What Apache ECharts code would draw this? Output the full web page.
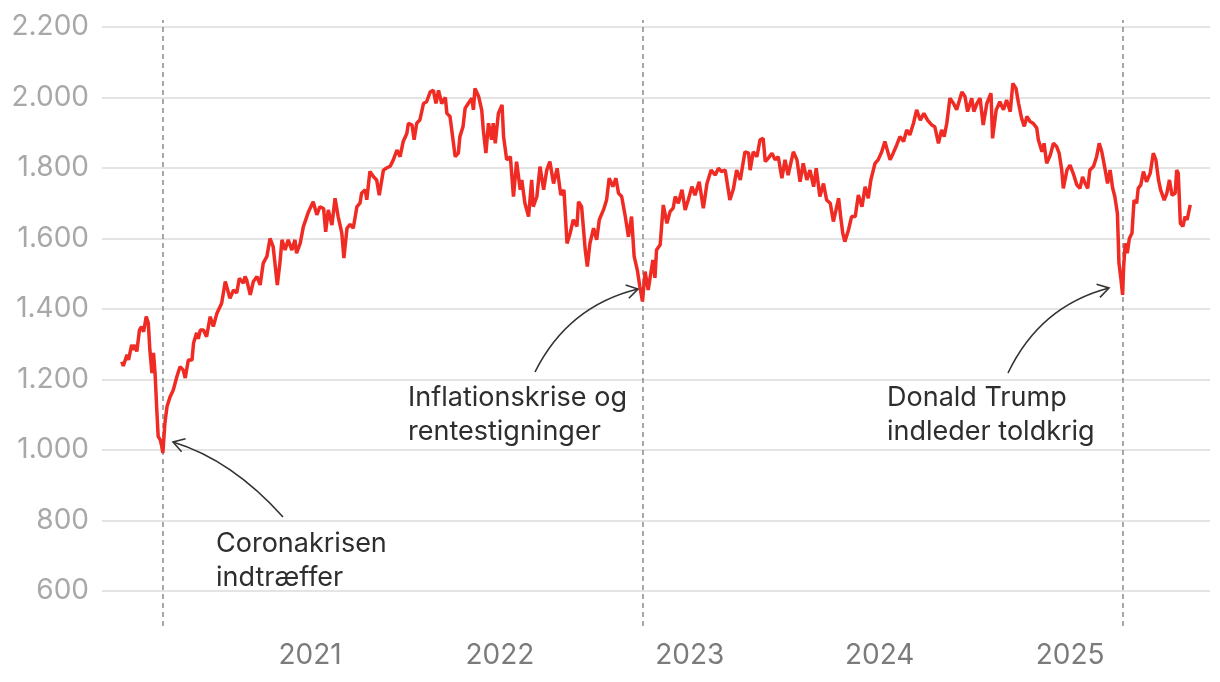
<!DOCTYPE html>
<html><head><meta charset="utf-8">
<script src="https://cdn.jsdelivr.net/npm/echarts@6/dist/echarts.min.js"></script>
<style>html,body{margin:0;padding:0;background:#fff}#c{width:1220px;height:682px}</style>
</head><body><div id="c"></div><script>
// Days since 2020-01-01 and index level
const startUTC = Date.UTC(2020, 0, 1);
const dayOffsets = [4,7,14,17,23,26,30,33,38,42,46,51,55,58,62,65,68,71,74,78,81,83,87,91,97,103,110,116,122,126,132,139,142,148,151,155,161,167,174,180,187,196,203,212,219,225,230,238,241,244,251,257,264,270,276,283,289,295,303,308,312,318,324,331,337,340,347,353,363,372,379,385,392,396,401,408,414,420,427,431,437,443,449,456,462,465,472,475,481,488,494,499,507,513,520,526,533,539,545,552,555,562,566,571,577,584,590,597,603,608,613,619,626,629,635,645,651,654,660,664,670,677,680,683,690,696,699,704,709,715,718,722,728,735,738,744,751,757,763,770,773,779,786,792,795,802,808,815,821,827,834,841,848,854,860,866,872,879,882,888,895,899,904,911,917,922,930,936,941,948,954,959,965,972,978,984,989,995,1000,1005,1010,1016,1025,1029,1032,1039,1045,1052,1058,1064,1068,1074,1081,1087,1093,1100,1106,1114,1122,1129,1137,1145,1151,1157,1164,1173,1180,1186,1193,1202,1209,1212,1218,1225,1231,1237,1241,1247,1254,1260,1266,1273,1279,1285,1295,1302,1308,1314,1321,1327,1334,1339,1346,1353,1359,1366,1372,1382,1386,1390,1394,1401,1407,1414,1420,1427,1433,1439,1444,1452,1458,1465,1471,1481,1487,1494,1500,1507,1513,1519,1526,1532,1539,1546,1553,1561,1567,1574,1580,1585,1590,1596,1603,1609,1619,1625,1630,1638,1642,1648,1654,1660,1667,1675,1678,1685,1692,1699,1705,1712,1717,1723,1728,1734,1739,1744,1750,1756,1763,1766,1773,1777,1782,1789,1795,1801,1806,1811,1814,1821,1827,1833,1840,1846,1851,1856,1861,1865,1872,1878,1883,1888,1894,1899,1904,1909,1913,1918,1921,1925,1928,1930,1933,1937,1941,1946,1950,1955,1958,1963,1968,1974,1981,1987,1992,1997,2001,2008,2013,2018,2023,2029,2032,2035,2039,2044,2048,2052,2058];
const indexValues = [1250,1238,1270,1255,1298,1284,1298,1279,1340,1350,1335,1378,1360,1284,1218,1275,1218,1123,1038,1028,1009,991,1077,1123,1151,1170,1208,1236,1227,1204,1255,1255,1303,1332,1315,1340,1340,1321,1378,1350,1388,1416,1478,1430,1454,1445,1487,1473,1492,1483,1440,1478,1492,1468,1530,1549,1600,1577,1468,1530,1596,1567,1596,1567,1596,1558,1586,1633,1676,1704,1667,1690,1685,1619,1681,1638,1714,1662,1615,1544,1629,1640,1629,1690,1700,1728,1738,1710,1790,1775,1766,1723,1794,1800,1805,1823,1851,1832,1875,1898,1927,1922,1880,1927,1936,1983,1988,2016,2020,1983,2020,1983,2000,1955,1946,1832,1842,1889,1917,1969,1983,1998,1965,2026,2003,1964,1908,1842,1927,1880,1927,1870,1955,1979,1889,1823,1832,1719,1818,1738,1766,1700,1662,1766,1690,1719,1804,1738,1794,1818,1756,1799,1723,1738,1586,1615,1653,1634,1704,1690,1567,1520,1586,1629,1596,1653,1681,1709,1771,1747,1771,1728,1719,1662,1605,1662,1549,1511,1463,1421,1506,1454,1539,1488,1567,1582,1695,1643,1676,1686,1719,1700,1738,1681,1709,1747,1723,1761,1686,1756,1794,1780,1799,1790,1794,1709,1742,1794,1766,1846,1842,1794,1846,1832,1880,1884,1818,1828,1842,1823,1832,1771,1823,1780,1846,1823,1761,1813,1766,1794,1747,1799,1719,1756,1709,1700,1648,1714,1662,1615,1591,1624,1662,1662,1723,1690,1747,1714,1766,1813,1823,1846,1875,1823,1842,1866,1889,1875,1908,1894,1927,1965,1936,1955,1936,1922,1917,1870,1908,1889,1927,1998,1983,1965,2016,2003,1960,1998,1960,1983,1998,1922,1983,2012,1884,1965,1988,1965,1993,1960,2040,2026,1983,1940,1918,1946,1932,1927,1913,1880,1846,1870,1813,1837,1870,1861,1842,1794,1742,1794,1808,1785,1752,1742,1775,1756,1742,1794,1804,1832,1870,1846,1799,1756,1794,1742,1719,1671,1530,1482,1440,1520,1586,1558,1600,1615,1709,1700,1742,1752,1790,1761,1785,1842,1823,1766,1738,1709,1728,1766,1723,1728,1794,1785,1643,1634,1662,1653,1695];
const yearLabels = [2021, 2022, 2023, 2024, 2025];
const yTickLabels = [600, 800, 1000, 1200, 1400, 1600, 1800, 2000, 2200];
const eventDays = [83, 1005, 1928];
const eventTexts = ['Coronakrisen\nindtræffer', 'Inflationskrise og\nrentestigninger', 'Donald Trump\nindleder toldkrig'];

const DAY = 86400000;
const seriesData = dayOffsets.map((d, i) => [startUTC + d * DAY, indexValues[i]]);
const yearTs = yearLabels.map(y => Date.UTC(y, 0, 1));
const fmtNum = v => v >= 1000 ? Math.floor(v / 1000) + '.' + String(v % 1000).padStart(3, '0') : String(v);

function arrow(p0, c, p1) {
  const dx = p1[0] - c[0], dy = p1[1] - c[1], L = Math.hypot(dx, dy);
  const ux = dx / L, uy = dy / L, len = 13, ang = 0.55;
  const head = s => [p1[0] - len * (ux * Math.cos(s * ang) - uy * Math.sin(s * ang)),
                     p1[1] - len * (uy * Math.cos(s * ang) + ux * Math.sin(s * ang))];
  const st = { stroke: '#333', lineWidth: 1.6, fill: null };
  return [
    { type: 'bezierCurve', z: 100, shape: { x1: p0[0], y1: p0[1], x2: p1[0], y2: p1[1], cpx1: c[0], cpy1: c[1] }, style: st },
    { type: 'polyline', z: 100, shape: { points: [head(1), p1, head(-1)] }, style: st }
  ];
}
const textStyle = { fill: '#2e2e2e', fontSize: 27, fontFamily: 'Inter', lineHeight: 34 };
const annotations = [
  { type: 'text', x: 216, y: 527, style: Object.assign({ text: eventTexts[0] }, textStyle), z: 100 },
  { type: 'text', x: 408, y: 381, style: Object.assign({ text: eventTexts[1] }, textStyle), z: 100 },
  { type: 'text', x: 887, y: 381, style: Object.assign({ text: eventTexts[2] }, textStyle), z: 100 }
].concat(
  arrow([283, 517], [232, 460], [173, 442]),
  arrow([535, 372], [568, 306], [638, 289]),
  arrow([1008, 373], [1040, 306], [1109, 288])
);

const chart = echarts.init(document.getElementById('c'), null, { renderer: 'canvas' });
chart.setOption({
  animation: false,
  backgroundColor: '#fff',
  grid: { left: 102, right: 10, top: 20, bottom: 56 },
  xAxis: {
    type: 'value',
    min: startUTC - 34 * DAY,
    max: startUTC + 2096 * DAY,
    axisLine: { show: false },
    axisTick: { show: false },
    splitLine: { show: false },
    axisLabel: {
      customValues: yearTs,
      formatter: v => String(new Date(v).getUTCFullYear()),
      color: '#7b7b7b', fontSize: 28, fontFamily: 'Inter', margin: 16
    }
  },
  yAxis: {
    type: 'value',
    min: 500, max: 2220, interval: 100,
    axisLine: { show: false },
    axisTick: { show: false },
    axisLabel: {
      formatter: v => yTickLabels.indexOf(v) >= 0 ? fmtNum(v) : '',
      color: '#a8a8a8', fontSize: 28, fontFamily: 'Inter', margin: 13
    },
    splitLine: { show: true, lineStyle: { color: ['rgba(0,0,0,0)', '#e4e4e4'], width: 2 } }
  },
  series: [{
    type: 'line',
    data: seriesData,
    showSymbol: false,
    lineStyle: { color: '#ef2b24', width: 3.5 },
    itemStyle: { color: '#ef2b24' },
    z: 5,
    markLine: {
      silent: true, symbol: 'none', z: 1,
      label: { show: false },
      lineStyle: { color: '#8a8a8a', type: [5, 4], width: 1.5 },
      data: eventDays.map(d => ({ xAxis: startUTC + d * DAY }))
    }
  }],
  graphic: annotations
});
</script></body></html>
